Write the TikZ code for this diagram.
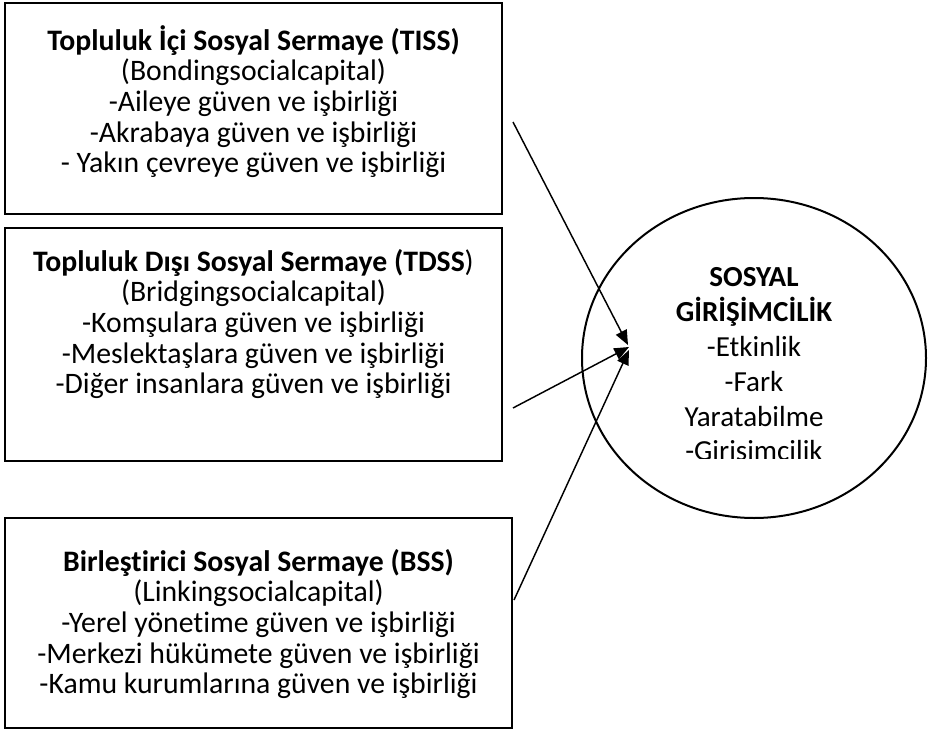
\documentclass[tikz,border=0pt]{standalone}
\usepackage{fontspec}
\setmainfont{Carlito}[Ligatures=NoCommon]
\usetikzlibrary{arrows.meta,shapes.geometric,fit}
\begin{document}
\begin{tikzpicture}[x=0.75pt,y=-0.75pt,
  box/.style={draw, line width=1.5pt, inner sep=0pt},
  txt/.style={anchor=north, inner sep=0pt, align=center, font=\fontsize{22.3}{22.9}\selectfont},
  ctxt/.style={anchor=north, inner sep=0pt, align=center, font=\fontsize{21.8}{26.1}\selectfont},
  arr/.style={line width=1.1pt, -{Triangle[length=11pt,width=9pt]}}]
\useasboundingbox (0,0) rectangle (929,732);
% boxes
\node[box, fit={(5,3) (502,214)}] (b1) {};
\node[box, fit={(5,228) (502,461)}] (b2) {};
\node[box, fit={(5,518) (512,728)}] (b3) {};
% box texts
\node[txt] (t1) at (253.5,23.5) {\rule{0pt}{20pt}\textbf{Topluluk İçi Sosyal Sermaye (TISS)}\\(Bondingsocialcapital)\\-Aileye güven ve işbirliği\\-Akrabaya güven ve işbirliği\\- Yakın çevreye güven ve işbirliği};
\node[txt] (t2) at (253.5,244.5) {\rule{0pt}{20pt}\textbf{Topluluk Dışı Sosyal Sermaye (TDSS})\\(Bridgingsocialcapital)\\-Komşulara güven ve işbirliği\\-Meslektaşlara güven ve işbirliği\\-Diğer insanlara güven ve işbirliği};
\node[txt] (t3) at (258.5,544.5) {\rule{0pt}{20pt}\textbf{Birleştirici Sosyal Sermaye (BSS)}\\(Linkingsocialcapital)\\-Yerel yönetime güven ve işbirliği\\-Merkezi hükümete güven ve işbirliği\\-Kamu kurumlarına güven ve işbirliği};
% circle
\node[draw, ellipse, line width=1.5pt, inner sep=0pt, minimum width=258pt, minimum height=240pt] (c) at (754,358) {};
\begin{scope}
\clip (600,200) rectangle (910,458);
\node[ctxt] (ct) at (754,260) {\rule{0pt}{20pt}\textbf{SOSYAL}\\\textbf{GİRİŞİMCİLİK}\\-Etkinlik\\-Fark\\Yaratabilme\\-Girisimcilik};
\end{scope}
% arrows
\coordinate (s1) at (513,122);
\coordinate (s2) at (513,408);
\coordinate (s3) at (514,600);
\coordinate (p1) at (628,345);
\coordinate (p2) at (629,347);
\coordinate (p3) at (629,350);
\draw[arr] (s1) -- (p1);
\draw[arr] (s2) -- (p2);
\draw[arr] (s3) -- (p3);
\end{tikzpicture}
\end{document}
